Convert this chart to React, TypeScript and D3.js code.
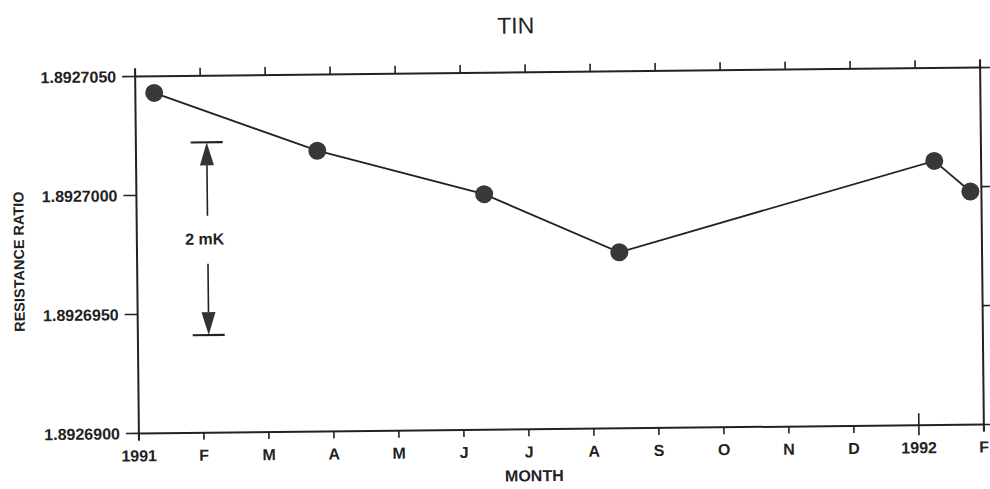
import React from "react";
import * as d3 from "d3";

const title = "TIN";
const xAxisTitle = "MONTH";
const yAxisTitle = "RESISTANCE RATIO";

// month index from Jan 1991 (0) to Feb 1992 (13)
const monthTicks = [0, 1, 2, 3, 4, 5, 6, 7, 8, 9, 10, 11, 12, 13];
const monthLabels = ["1991", "F", "M", "A", "M", "J", "J", "A", "S", "O", "N", "D", "1992", "F"];
const yearTicks = [12];

const yTicks = [1.89269, 1.892695, 1.8927, 1.892705];
const yTickLabels = ["1.8926900", "1.8926950", "1.8927000", "1.8927050"];

// measurements (month position, resistance ratio)
const pointMonths = [0.29, 2.79, 5.35, 7.42, 12.28, 12.83];
const pointValues = [1.8927043, 1.8927018, 1.8926999, 1.8926974, 1.8927011, 1.8926998];

// 2 mK scale annotation
const annotMonth = 1.09;
const annotTop = 1.8927022;
const annotBottom = 1.8926941;
const annotLabel = "2 mK";

const W = 990;
const H = 489;
const L = 137;
const R = 982;
const T = 72;
const B = 429;
const ink = "#222";
const font = "'Liberation Sans', Arial, Helvetica, sans-serif";

export default function App() {
  const x = d3.scaleLinear().domain([0, 13]).range([L, R]);
  const y = d3.scaleLinear().domain([1.89269, 1.892705]).range([B, T]);
  const line = d3
    .line<number>()
    .x((_, i) => x(pointMonths[i]))
    .y((v) => y(v));

  const ax = x(annotMonth);
  const aT = y(annotTop);
  const aB = y(annotBottom);
  const aMid = (aT + aB) / 2;
  const head = 23;
  const hw = 7;
  const barHalf = 16;

  return (
    <svg
      width={W}
      height={H}
      style={{ position: "absolute", left: 0, top: 0, background: "#fff" }}
      fontFamily={font}
    >
      <rect width={W} height={H} fill="#fff" />
      <g transform="rotate(-0.6 560 250)">
        <text x={518} y={33} textAnchor="middle" fontSize={23} fill={ink}>
          {title}
        </text>

        {/* frame */}
        <line x1={L} x2={R} y1={T} y2={T} stroke={ink} strokeWidth={2} />
        <line x1={L} x2={R} y1={B} y2={B} stroke={ink} strokeWidth={2} />
        <line x1={L} x2={L} y1={T - 8} y2={B + 7} stroke={ink} strokeWidth={2} />
        <line x1={R} x2={R} y1={T - 8} y2={B + 7} stroke={ink} strokeWidth={2} />

        {/* month ticks */}
        {monthTicks.map((m, i) => (
          <g key={"mt" + i}>
            <line x1={x(m)} x2={x(m)} y1={T} y2={T - 8} stroke={ink} strokeWidth={1.6} />
            <line
              x1={x(m)}
              x2={x(m)}
              y1={yearTicks.includes(m) ? B - 12 : B}
              y2={yearTicks.includes(m) ? B + 10 : B + 7}
              stroke={ink}
              strokeWidth={1.6}
            />
            <text
              x={x(m)}
              y={B + 28}
              textAnchor="middle"
              fontSize={16}
              fontWeight="bold"
              fill={ink}
            >
              {monthLabels[i]}
            </text>
          </g>
        ))}

        {/* value ticks */}
        {yTicks.map((v, i) => (
          <g key={"yt" + i}>
            <line x1={L - 13} x2={L} y1={y(v)} y2={y(v)} stroke={ink} strokeWidth={1.6} />
            <line x1={R} x2={R + 10} y1={y(v)} y2={y(v)} stroke={ink} strokeWidth={1.6} />
            <text
              x={L - 19}
              y={y(v)}
              dy="0.36em"
              textAnchor="end"
              fontSize={16}
              fontWeight="bold"
              fill={ink}
            >
              {yTickLabels[i]}
            </text>
          </g>
        ))}

        <text
          x={532}
          y={481}
          textAnchor="middle"
          fontSize={16}
          fontWeight="bold"
          fill={ink}
        >
          {xAxisTitle}
        </text>
        <text
          transform={`translate(24, 256) rotate(-90)`}
          textAnchor="middle"
          fontSize={14.5}
          fontWeight="bold"
          fill={ink}
        >
          {yAxisTitle}
        </text>

        {/* data */}
        <path d={line(pointValues) || ""} fill="none" stroke={ink} strokeWidth={1.8} />
        {pointValues.map((v, i) => (
          <circle key={"p" + i} cx={x(pointMonths[i])} cy={y(v)} r={9} fill="#383838" />
        ))}

        {/* 2 mK annotation */}
        <line x1={ax - barHalf} x2={ax + barHalf} y1={aT} y2={aT} stroke={ink} strokeWidth={2.2} />
        <line x1={ax - barHalf} x2={ax + barHalf} y1={aB} y2={aB} stroke={ink} strokeWidth={2.2} />
        <path d={`M${ax},${aT} L${ax - hw},${aT + head} L${ax + hw},${aT + head} Z`} fill="#333" />
        <path d={`M${ax},${aB} L${ax - hw},${aB - head} L${ax + hw},${aB - head} Z`} fill="#333" />
        <line x1={ax} x2={ax} y1={aT + head} y2={aMid - 23} stroke={ink} strokeWidth={1.6} />
        <line x1={ax} x2={ax} y1={aMid + 25} y2={aB - head} stroke={ink} strokeWidth={1.6} />
        <text
          x={ax - 3}
          y={aMid}
          dy="0.36em"
          textAnchor="middle"
          fontSize={16}
          fontWeight="bold"
          fill={ink}
        >
          {annotLabel}
        </text>
      </g>
    </svg>
  );
}
